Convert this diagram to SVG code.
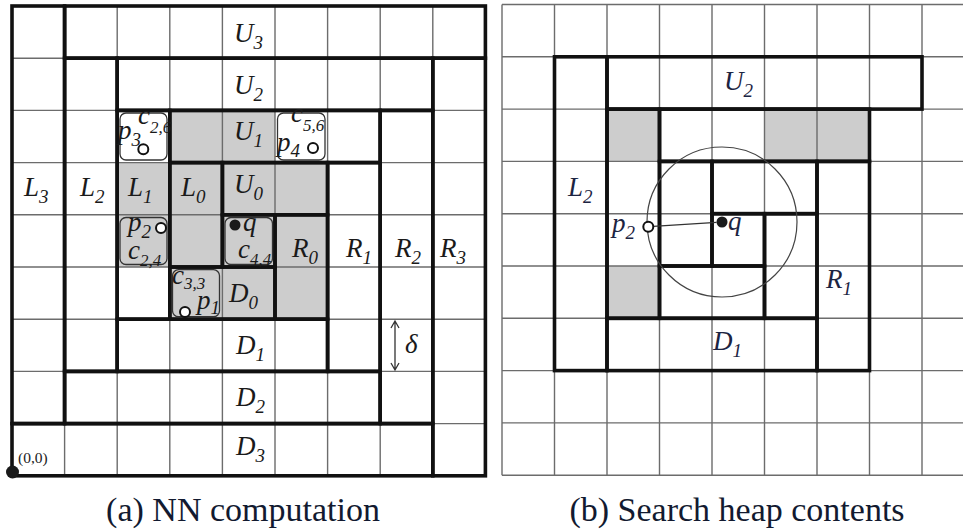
<svg xmlns="http://www.w3.org/2000/svg" width="963" height="531" viewBox="0 0 963 531">
  <style>
    .thin { fill: none; stroke: #6c6c6c; stroke-width: 1.4; }
    .thick { fill: none; stroke: #111; stroke-width: 3.6; }
    .gray { fill: #cdcdcd; }
    .boxw { fill: #fff; stroke: #333; stroke-width: 1.3; }
    .boxg { fill: #cdcdcd; stroke: #333; stroke-width: 1.3; }
    .lbl { font-family: "Liberation Serif", "Times New Roman", serif; font-style: italic; font-size: 27px; fill: #1a1a1a; }
    .lblb { font-family: "Liberation Serif", "Times New Roman", serif; font-style: italic; font-size: 27px; fill: #1c2442; }
    .sub { font-size: 19px; }
    .idx { font-size: 17px; }
    .pt { fill: #fff; stroke: #111; stroke-width: 2; }
    .dot { fill: #1a1a1a; }
    .cap { font-family: "Liberation Serif", "Times New Roman", serif; font-size: 34px; fill: #121a30; }
    .fine { fill: none; stroke: #333; stroke-width: 1.3; }
  </style>

  <rect width="963" height="531" fill="#fff"/>

  <!-- (a) NN computation grid -->
  <g id="grid-a">
    <!-- shaded cells -->
    <g id="a-shade">
      <rect class="gray" x="169.8" y="162.6" width="157.8" height="156.6"/>
      <rect class="gray" x="117.2" y="162.6" width="52.6" height="104.4"/>
      <rect class="gray" x="169.8" y="110.4" width="105.2" height="52.2"/>
    </g>
    <!-- unit cells -->
    <path class="thin" d="M12 6V475.8M64.6 6V475.8M117.2 6V475.8M169.8 6V475.8M222.4 6V475.8M275 6V475.8M327.6 6V475.8M380.2 6V475.8M432.8 6V475.8M485.4 6V475.8
      M12 6H485.4M12 58.2H485.4M12 110.4H485.4M12 162.6H485.4M12 214.8H485.4M12 267H485.4M12 319.2H485.4M12 371.4H485.4M12 423.6H485.4M12 475.8H485.4"/>
    <!-- strips of each ring -->
    <g id="a-ring3" class="thick">
      <rect x="12" y="6" width="52.6" height="417.6"/>
      <rect x="64.6" y="6" width="420.8" height="52.2"/>
      <rect x="432.8" y="58.2" width="52.6" height="417.6"/>
      <rect x="12" y="423.6" width="420.8" height="52.2"/>
    </g>
    <g id="a-ring2" class="thick">
      <rect x="64.6" y="58.2" width="52.6" height="313.2"/>
      <rect x="117.2" y="58.2" width="315.6" height="52.2"/>
      <rect x="380.2" y="110.4" width="52.6" height="313.2"/>
      <rect x="64.6" y="371.4" width="315.6" height="52.2"/>
    </g>
    <g id="a-ring1" class="thick">
      <rect x="117.2" y="110.4" width="52.6" height="208.8"/>
      <rect x="169.8" y="110.4" width="210.4" height="52.2"/>
      <rect x="327.6" y="162.6" width="52.6" height="208.8"/>
      <rect x="117.2" y="319.2" width="210.4" height="52.2"/>
    </g>
    <g id="a-ring0" class="thick">
      <rect x="169.8" y="162.6" width="52.6" height="104.4"/>
      <rect x="222.4" y="162.6" width="105.2" height="52.2"/>
      <rect x="275" y="214.8" width="52.6" height="104.4"/>
      <rect x="169.8" y="267" width="105.2" height="52.2"/>
      <rect x="222.4" y="214.8" width="52.6" height="52.2"/>
    </g>

    <!-- strip labels -->
    <g id="a-labels">
      <text class="lbl" x="234" y="42">U<tspan class="sub" dy="7">3</tspan></text>
      <text class="lbl" x="234" y="94">U<tspan class="sub" dy="7">2</tspan></text>
      <text class="lbl" x="234" y="140">U<tspan class="sub" dy="7">1</tspan></text>
      <text class="lbl" x="234" y="193">U<tspan class="sub" dy="7">0</tspan></text>
      <text class="lbl" x="24" y="196">L<tspan class="sub" dy="7">3</tspan></text>
      <text class="lbl" x="80" y="196">L<tspan class="sub" dy="7">2</tspan></text>
      <text class="lbl" x="128" y="196">L<tspan class="sub" dy="7">1</tspan></text>
      <text class="lbl" x="181" y="196">L<tspan class="sub" dy="7">0</tspan></text>
      <text class="lbl" x="292" y="257">R<tspan class="sub" dy="7">0</tspan></text>
      <text class="lbl" x="346" y="257">R<tspan class="sub" dy="7">1</tspan></text>
      <text class="lbl" x="395" y="257">R<tspan class="sub" dy="7">2</tspan></text>
      <text class="lbl" x="440" y="257">R<tspan class="sub" dy="7">3</tspan></text>
      <text class="lbl" x="229" y="302">D<tspan class="sub" dy="7">0</tspan></text>
      <text class="lbl" x="236" y="354">D<tspan class="sub" dy="7">1</tspan></text>
      <text class="lbl" x="236" y="406">D<tspan class="sub" dy="7">2</tspan></text>
      <text class="lbl" x="236" y="455">D<tspan class="sub" dy="7">3</tspan></text>
    </g>

    <!-- cells holding data points -->
    <g id="cell-c26">
      <rect class="boxw" x="120" y="113" width="47" height="47" rx="6"/>
      <text class="lbl" x="138" y="124">c<tspan class="idx" dy="9">2,6</tspan></text>
      <text class="lbl" x="118" y="139">p<tspan class="sub" dy="7">3</tspan></text>
      <circle class="pt" cx="143.3" cy="149.3" r="5"/>
    </g>
    <g id="cell-c56">
      <rect class="boxw" x="277.5" y="113" width="47.5" height="47" rx="6"/>
      <text class="lbl" x="291" y="122">c<tspan class="idx" dy="9">5,6</tspan></text>
      <text class="lbl" x="277" y="151">p<tspan class="sub" dy="6">4</tspan></text>
      <circle class="pt" cx="313" cy="148" r="5"/>
    </g>
    <g id="cell-c24">
      <rect class="boxg" x="120" y="217.5" width="47" height="47" rx="6"/>
      <text class="lbl" x="128" y="231">p<tspan class="sub" dy="7">2</tspan></text>
      <circle class="pt" cx="161" cy="228" r="5"/>
      <text class="lbl" x="128" y="259">c<tspan class="idx" dy="7">2,4</tspan></text>
    </g>
    <g id="cell-c33">
      <rect class="boxg" x="172.5" y="269.7" width="47" height="47" rx="6"/>
      <text class="lbl" x="172" y="284">c<tspan class="idx" dy="5">3,3</tspan></text>
      <text class="lbl" x="197" y="309">p<tspan class="sub" dy="5">1</tspan></text>
      <circle class="pt" cx="185" cy="312" r="5"/>
    </g>
    <g id="cell-c44">
      <rect class="boxg" x="225" y="217.5" width="47.5" height="47" rx="6"/>
      <circle class="dot" cx="235" cy="225" r="5.5"/>
      <text class="lbl" x="243" y="231">q</text>
      <text class="lbl" x="238" y="258">c<tspan class="idx" dy="7">4,4</tspan></text>
    </g>

    <!-- cell size marker -->
    <g id="delta">
      <path class="fine" d="M395 321V370M391 328L395 321L399 328M391 363L395 370L399 363"/>
      <text class="lbl" x="405" y="353">δ</text>
    </g>

    <!-- origin -->
    <g id="origin">
      <circle class="dot" cx="12.5" cy="472" r="6.5"/>
      <text x="18" y="463" font-family="Liberation Serif, serif" font-size="15.5" fill="#222">(0,0)</text>
    </g>
  </g>

  <!-- (b) search heap contents grid -->
  <g id="grid-b">
    <g id="b-shade">
      <rect class="gray" x="607" y="109.1" width="52.5" height="52.3"/>
      <rect class="gray" x="764.5" y="109.1" width="105" height="52.3"/>
      <rect class="gray" x="607" y="266" width="52.5" height="52.3"/>
    </g>
    <path class="thin" d="M502 4.5V475.2M554.5 4.5V475.2M607 4.5V475.2M659.5 4.5V475.2M712 4.5V475.2M764.5 4.5V475.2M817 4.5V475.2M869.5 4.5V475.2M922 4.5V475.2
      M502 4.5H963M502 56.8H963M502 109.1H963M502 161.4H963M502 213.7H963M502 266H963M502 318.3H963M502 370.6H963M502 422.9H963M502 475.2H963"/>
    <g id="b-ring2" class="thick">
      <rect x="554.5" y="56.8" width="52.5" height="313.8"/>
      <rect x="607" y="56.8" width="315" height="52.3"/>
    </g>
    <g id="b-ring1" class="thick">
      <rect x="607" y="109.1" width="52.5" height="209.2"/>
      <rect x="659.5" y="109.1" width="210" height="52.3"/>
      <rect x="817" y="161.4" width="52.5" height="209.2"/>
      <rect x="607" y="318.3" width="210" height="52.3"/>
    </g>
    <g id="b-ring0" class="thick">
      <rect x="659.5" y="161.4" width="52.5" height="104.6"/>
      <rect x="712" y="161.4" width="105" height="52.3"/>
      <rect x="764.5" y="213.7" width="52.5" height="104.6"/>
      <rect x="659.5" y="266" width="105" height="52.3"/>
      <rect x="712" y="213.7" width="52.5" height="52.3"/>
    </g>

    <!-- search range around q -->
    <g id="b-range">
      <circle cx="722" cy="222" r="75" fill="none" stroke="#444" stroke-width="1.2"/>
      <path d="M653.2 226.4L716.5 222.3" fill="none" stroke="#333" stroke-width="1.3"/>
      <circle class="pt" cx="648.3" cy="226.7" r="5"/>
      <circle class="dot" cx="722" cy="222" r="5.5"/>
    </g>

    <g id="b-labels">
      <text class="lblb" x="724" y="90">U<tspan class="sub" dy="7">2</tspan></text>
      <text class="lblb" x="568" y="196">L<tspan class="sub" dy="7">2</tspan></text>
      <text class="lblb" x="826" y="288">R<tspan class="sub" dy="7">1</tspan></text>
      <text class="lblb" x="713" y="350">D<tspan class="sub" dy="7">1</tspan></text>
      <text class="lblb" x="612" y="232">p<tspan class="sub" dy="7">2</tspan></text>
      <text class="lblb" x="728" y="230">q</text>
    </g>
  </g>

  <!-- captions -->
  <text class="cap" x="243" y="521" text-anchor="middle">(a) NN computation</text>
  <text class="cap" x="737" y="521" text-anchor="middle">(b) Search heap contents</text>
</svg>
